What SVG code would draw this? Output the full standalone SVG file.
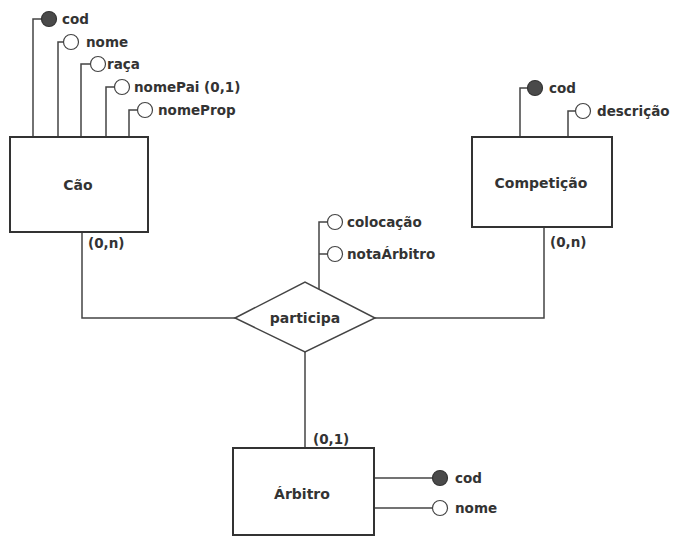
<svg xmlns="http://www.w3.org/2000/svg" width="673" height="537" viewBox="0 0 673 537">
<style>
text{font-family:"DejaVu Sans","Liberation Sans",sans-serif;font-weight:bold;font-size:13.5px;fill:#333}
.ent{fill:#fff;stroke:#333;stroke-width:2}
.ln{fill:none;stroke:#444;stroke-width:1.5}
.key{fill:#4a4a4a;stroke:#333;stroke-width:1.2}
.att{fill:#fff;stroke:#444;stroke-width:1.2}
.nm{font-size:14px;text-anchor:middle}
</style>
<rect width="673" height="537" fill="#fff"/>
<g id="connectors">
<polyline class="ln" points="82,233 82,318 235,318"/>
<polyline class="ln" points="544,227 544,318 375,318"/>
<polyline class="ln" points="305,352 305,448"/>
</g>
<g id="cao">
<polyline class="ln" points="33,137 33,19 41,19"/>
<polyline class="ln" points="58,137 58,42 64,42"/>
<polyline class="ln" points="81,137 81,64 90,64"/>
<polyline class="ln" points="106,137 106,87 114,87"/>
<polyline class="ln" points="129,137 129,110 137,110"/>
<rect class="ent" x="10" y="137" width="138" height="95"/>
<text class="nm" x="78" y="190">Cão</text>
<circle class="key" cx="49" cy="19" r="7.5"/>
<text x="62" y="24">cod</text>
<circle class="att" cx="71" cy="42" r="7.5"/>
<text x="86" y="47">nome</text>
<circle class="att" cx="98" cy="64" r="7.5"/>
<text x="107" y="69">raça</text>
<circle class="att" cx="122" cy="87" r="7.5"/>
<text x="134" y="92">nomePai (0,1)</text>
<circle class="att" cx="145" cy="110" r="7.5"/>
<text x="158" y="115">nomeProp</text>
<text x="88" y="248">(0,n)</text>
</g>
<g id="competicao">
<polyline class="ln" points="520,137 520,88 528,88"/>
<polyline class="ln" points="568,137 568,111 576,111"/>
<rect class="ent" x="472" y="137" width="140" height="90"/>
<text class="nm" x="541" y="188">Competição</text>
<circle class="key" cx="535" cy="88" r="7.5"/>
<text x="549" y="93">cod</text>
<circle class="att" cx="583" cy="111" r="7.5"/>
<text x="597" y="116">descrição</text>
<text x="550" y="247">(0,n)</text>
</g>
<g id="participa">
<polyline class="ln" points="319,289 319,222 328,222"/>
<line class="ln" x1="319" y1="254" x2="328" y2="254"/>
<polygon class="ln" points="235,318 305,282 375,318 305,352" style="fill:#fff"/>
<text class="nm" x="305" y="323">participa</text>
<circle class="att" cx="335" cy="222" r="7.5"/>
<text x="347" y="227">colocação</text>
<circle class="att" cx="335" cy="254" r="7.5"/>
<text x="347" y="259">notaÁrbitro</text>
</g>
<g id="arbitro">
<line class="ln" x1="374" y1="478" x2="433" y2="478"/>
<line class="ln" x1="374" y1="508" x2="433" y2="508"/>
<rect class="ent" x="233" y="448" width="141" height="87"/>
<text class="nm" x="302" y="499">Árbitro</text>
<circle class="key" cx="440" cy="478" r="7.5"/>
<text x="455" y="483">cod</text>
<circle class="att" cx="440" cy="508" r="7.5"/>
<text x="455" y="513">nome</text>
<text x="313" y="444">(0,1)</text>
</g>
</svg>
